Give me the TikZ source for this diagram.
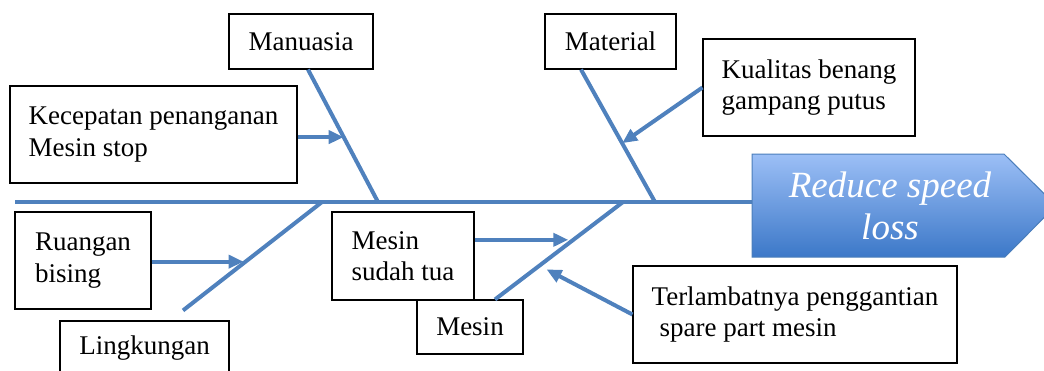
\documentclass[tikz,border=0pt]{standalone}
\usepackage{fontspec}
\setmainfont{Liberation Serif}
\usetikzlibrary{arrows.meta,calc}

\definecolor{bonecol}{RGB}{79,129,189}
\definecolor{headtop}{RGB}{156,191,246}
\definecolor{headbot}{RGB}{60,120,200}
\definecolor{headedge}{RGB}{74,126,187}

\begin{document}
\begin{tikzpicture}[x=1pt,y=-1pt,
  cause/.style={draw=black,line width=1.1pt,fill=white,align=left,
    inner xsep=4pt,inner ysep=2pt,font=\fontsize{27}{31.5}\selectfont},
  bone/.style={draw=bonecol,line width=4pt},
  subcause/.style={bone,-{Triangle[length=15pt,width=13pt]}},
  goaltext/.style={text=white,align=center,font=\fontsize{37}{42}\selectfont\itshape}]

\useasboundingbox (0,0) rectangle (1044,370);
\clip (0,0) rectangle (1044,370);

% main spine
\coordinate (tail) at (15,202);
\coordinate (headin) at (752,202);
\draw[bone] (tail) -- (headin);

% effect head
\path[draw=headedge,line width=1pt,top color=headtop,bottom color=headbot]
  (752,154) -- (1004,154) -- (1056,205.5) -- (1005,257) -- (752,257) -- cycle;
\node[goaltext] (goal) at (890,206) {Reduce speed\\loss};

% cause boxes
\node[cause,minimum width=144,minimum height=55] (man) at (301,41.5) {Manuasia};
\node[cause,minimum width=287,minimum height=97] (kec) at (153.5,134.5) {Kecepatan penanganan\\Mesin stop};
\node[cause,minimum width=131,minimum height=55] (mat) at (610.5,41.5) {Material};
\node[cause,minimum width=212,minimum height=97] (kual) at (809,87.5) {Kualitas benang\\gampang putus};
\node[cause,minimum width=136,minimum height=97] (ruang) at (83,260.5) {Ruangan\\bising};
\node[cause,minimum width=169,minimum height=55] (ling) at (144.5,348.5) {Lingkungan};
\node[cause,minimum width=142,minimum height=88] (tua) at (403,256) {Mesin\\sudah tua};
\node[cause,minimum width=106,minimum height=54] (mes) at (470,327) {Mesin};
\node[cause,minimum width=324,minimum height=97] (late) at (795,314.5) {Terlambatnya penggantian\\\hspace*{0.3em}spare part mesin};

% where the bones meet the spine
\coordinate (sMan) at (378,202);
\coordinate (sMat) at (655,202);
\coordinate (sLing) at (322,202);
\coordinate (sMes) at (623,202);

% bone feet at the category boxes
\coordinate (manfoot) at ($(man.south)+(7,0)$);
\coordinate (matfoot) at ($(mat.south)+(-29.5,0)$);
\coordinate (lingtop) at ($(ling.north)+(38.5,-10)$);
\coordinate (mesfoot) at ($(mes.north)+(25,0)$);

% category bones
\draw[bone] (manfoot) -- (sMan);
\draw[bone] (matfoot) -- (sMat);
\draw[bone] (lingtop) -- (sLing);
\draw[bone] (mesfoot) -- (sMes);

% points where sub-causes hit the bones
\coordinate (kecHit) at ($(manfoot)!0.51!(sMan)$);
\coordinate (kualHit) at ($(matfoot)!0.556!(sMat)$);
\coordinate (ruangHit) at ($(lingtop)!0.45!(sLing)$);
\coordinate (tuaHit) at ($(mesfoot)!0.612!(sMes)$);
\coordinate (lateHit) at ($(mesfoot)!0.347!(sMes)$);

% sub-cause arrows
\draw[subcause] (kec.east |- kecHit) -- (kecHit);
\draw[subcause] (kual.west) -- (kualHit);
\draw[subcause,shorten >=2pt] (ruang.east |- ruangHit) -- (ruangHit);
\draw[subcause,shorten >=5pt] (tua.east |- tuaHit) -- (tuaHit);
\draw[subcause,shorten >=8pt] (late.west) -- (lateHit);

\end{tikzpicture}
\end{document}
